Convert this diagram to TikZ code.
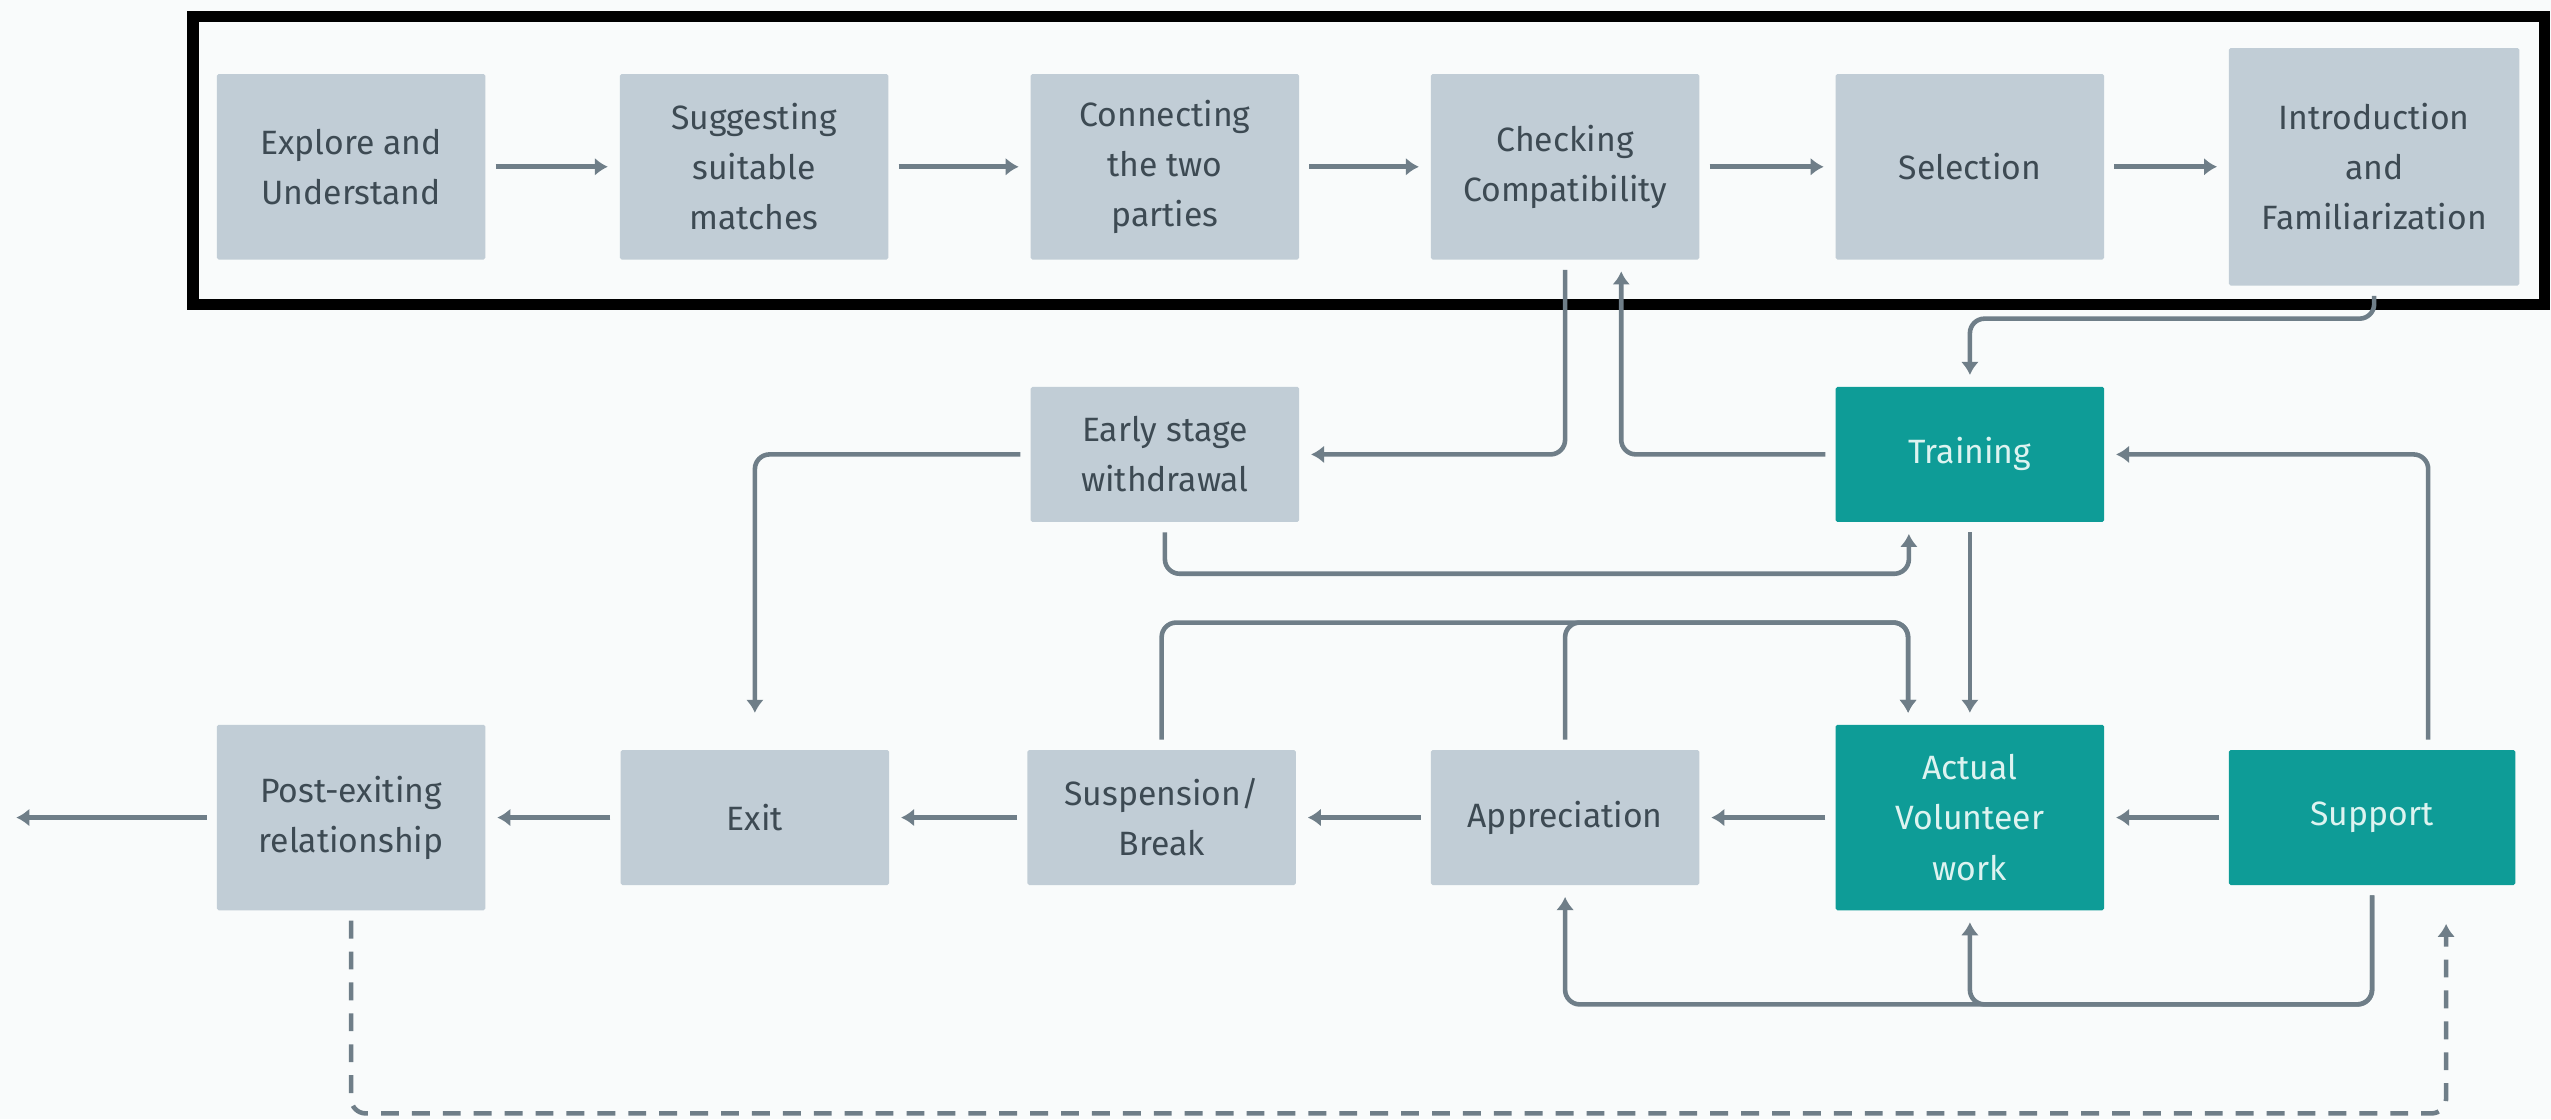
\documentclass[tikz,border=0pt]{standalone}
\usepackage{fontspec}
\setmainfont{Fira Sans}
\usetikzlibrary{arrows.meta,calc}
\definecolor{boxgray}{HTML}{C1CDD6}
\definecolor{inkgray}{HTML}{3D4A53}
\definecolor{tealbox}{HTML}{0E9C97}
\definecolor{paleink}{HTML}{DDF3F0}
\definecolor{wire}{HTML}{6F7E88}
\definecolor{paper}{HTML}{F9FBFB}
\begin{document}
\begin{tikzpicture}[
    stage/.style={fill=boxgray, text=inkgray, minimum width=3.3cm, minimum height=1.66cm,
      inner sep=0pt, align=center, rounded corners=0.6pt, font=\fontsize{11.8pt}{17.5pt}\selectfont},
    tall/.style={minimum height=2.28cm},
    core/.style={fill=tealbox, text=paleink},
    flow/.style={draw=wire, line width=1.6pt, rounded corners=1.8mm,
      -{Latex[length=1.6mm,width=2.2mm]}, shorten <=1.2mm, shorten >=1.4mm}
  ]
        \fill[paper] (0,0) rectangle (31.36,-13.76);
        \useasboundingbox (0,0) rectangle (31.36,-13.76);

        \node[stage, tall] (explore) at (4.316,-2.05) {Explore and\\Understand};
        \node[stage, tall] (suggest) at (9.27,-2.05) {Suggesting\\suitable\\matches};
        \node[stage, tall] (connect) at (14.32,-2.05) {Connecting\\the two\\parties};
        \node[stage, tall] (check) at (19.24,-2.05) {Checking\\Compatibility};
        \node[stage, tall] (select) at (24.216,-2.05) {Selection};
        \node[stage, minimum width=3.57cm, minimum height=2.92cm] (intro) at (29.186,-2.05) {Introduction\\and\\Familiarization};

        \draw[line width=4pt] (2.37,-0.2) rectangle (31.28,-3.74);

        \node[stage] (early) at (14.32,-5.586) {Early stage\\withdrawal};
        \node[stage, core] (training) at (24.216,-5.586) {Training};

        \node[stage, tall] (post) at (4.316,-10.05) {Post-exiting\\relationship};
        \node[stage] (exit) at (9.28,-10.05) {Exit};
        \node[stage] (pause) at (14.28,-10.05) {Suspension/\\Break};
        \node[stage] (thanks) at (19.24,-10.05) {Appreciation};
        \node[stage, tall, core] (work) at (24.216,-10.05) {Actual\\Volunteer\\work};
        \node[stage, core, minimum width=3.52cm] (support) at (29.16,-10.05) {Support};
        \coordinate (away) at (0.2,-10.05);

        \draw[flow] (explore) -- (suggest);
        \draw[flow] (suggest) -- (connect);
        \draw[flow] (connect) -- (check);
        \draw[flow] (check) -- (select);
        \draw[flow] (select) -- (intro);

        \draw[flow] (check.south) |- (early.east);
        \draw[flow] (training.west) -| ([xshift=0.69cm]check.south);
        \draw[flow] (intro.south) -- ++(0,-0.4) -| (training.north);
        \draw[flow] ([xshift=0.69cm]support.north) |- (training.east);
        \draw[flow, shorten >=4.5mm] (early.west) -| (exit.north);
        \draw[flow] (early.south) -- ++(0,-0.63) -| ([xshift=-0.75cm]training.south);
        \draw[flow] (training) -- (work);

        \draw[flow] (pause.north) -- ++(0,1.56) -| ([xshift=-0.76cm]work.north);
        \draw[flow] (thanks.north) -- ++(0,1.56) -| ([xshift=-0.76cm]work.north);
        \draw[flow] (support.south) -- ++(0,-1.46) -| (thanks.south);
        \draw[flow] (support.south) -- ++(0,-1.46) -| (work.south);

        \draw[flow] (support) -- (work);
        \draw[flow] (work) -- (thanks);
        \draw[flow] (thanks) -- (pause);
        \draw[flow] (pause) -- (exit);
        \draw[flow] (exit) -- (post);
        \draw[flow, shorten >=0pt] (post) -- (away);

        \draw[flow, dash pattern=on 2.2mm off 1.6mm, shorten >=4.7mm] (post.south) -- ++(0,-2.49) -| ([xshift=0.91cm]support.south);
      \end{tikzpicture}
\end{document}
